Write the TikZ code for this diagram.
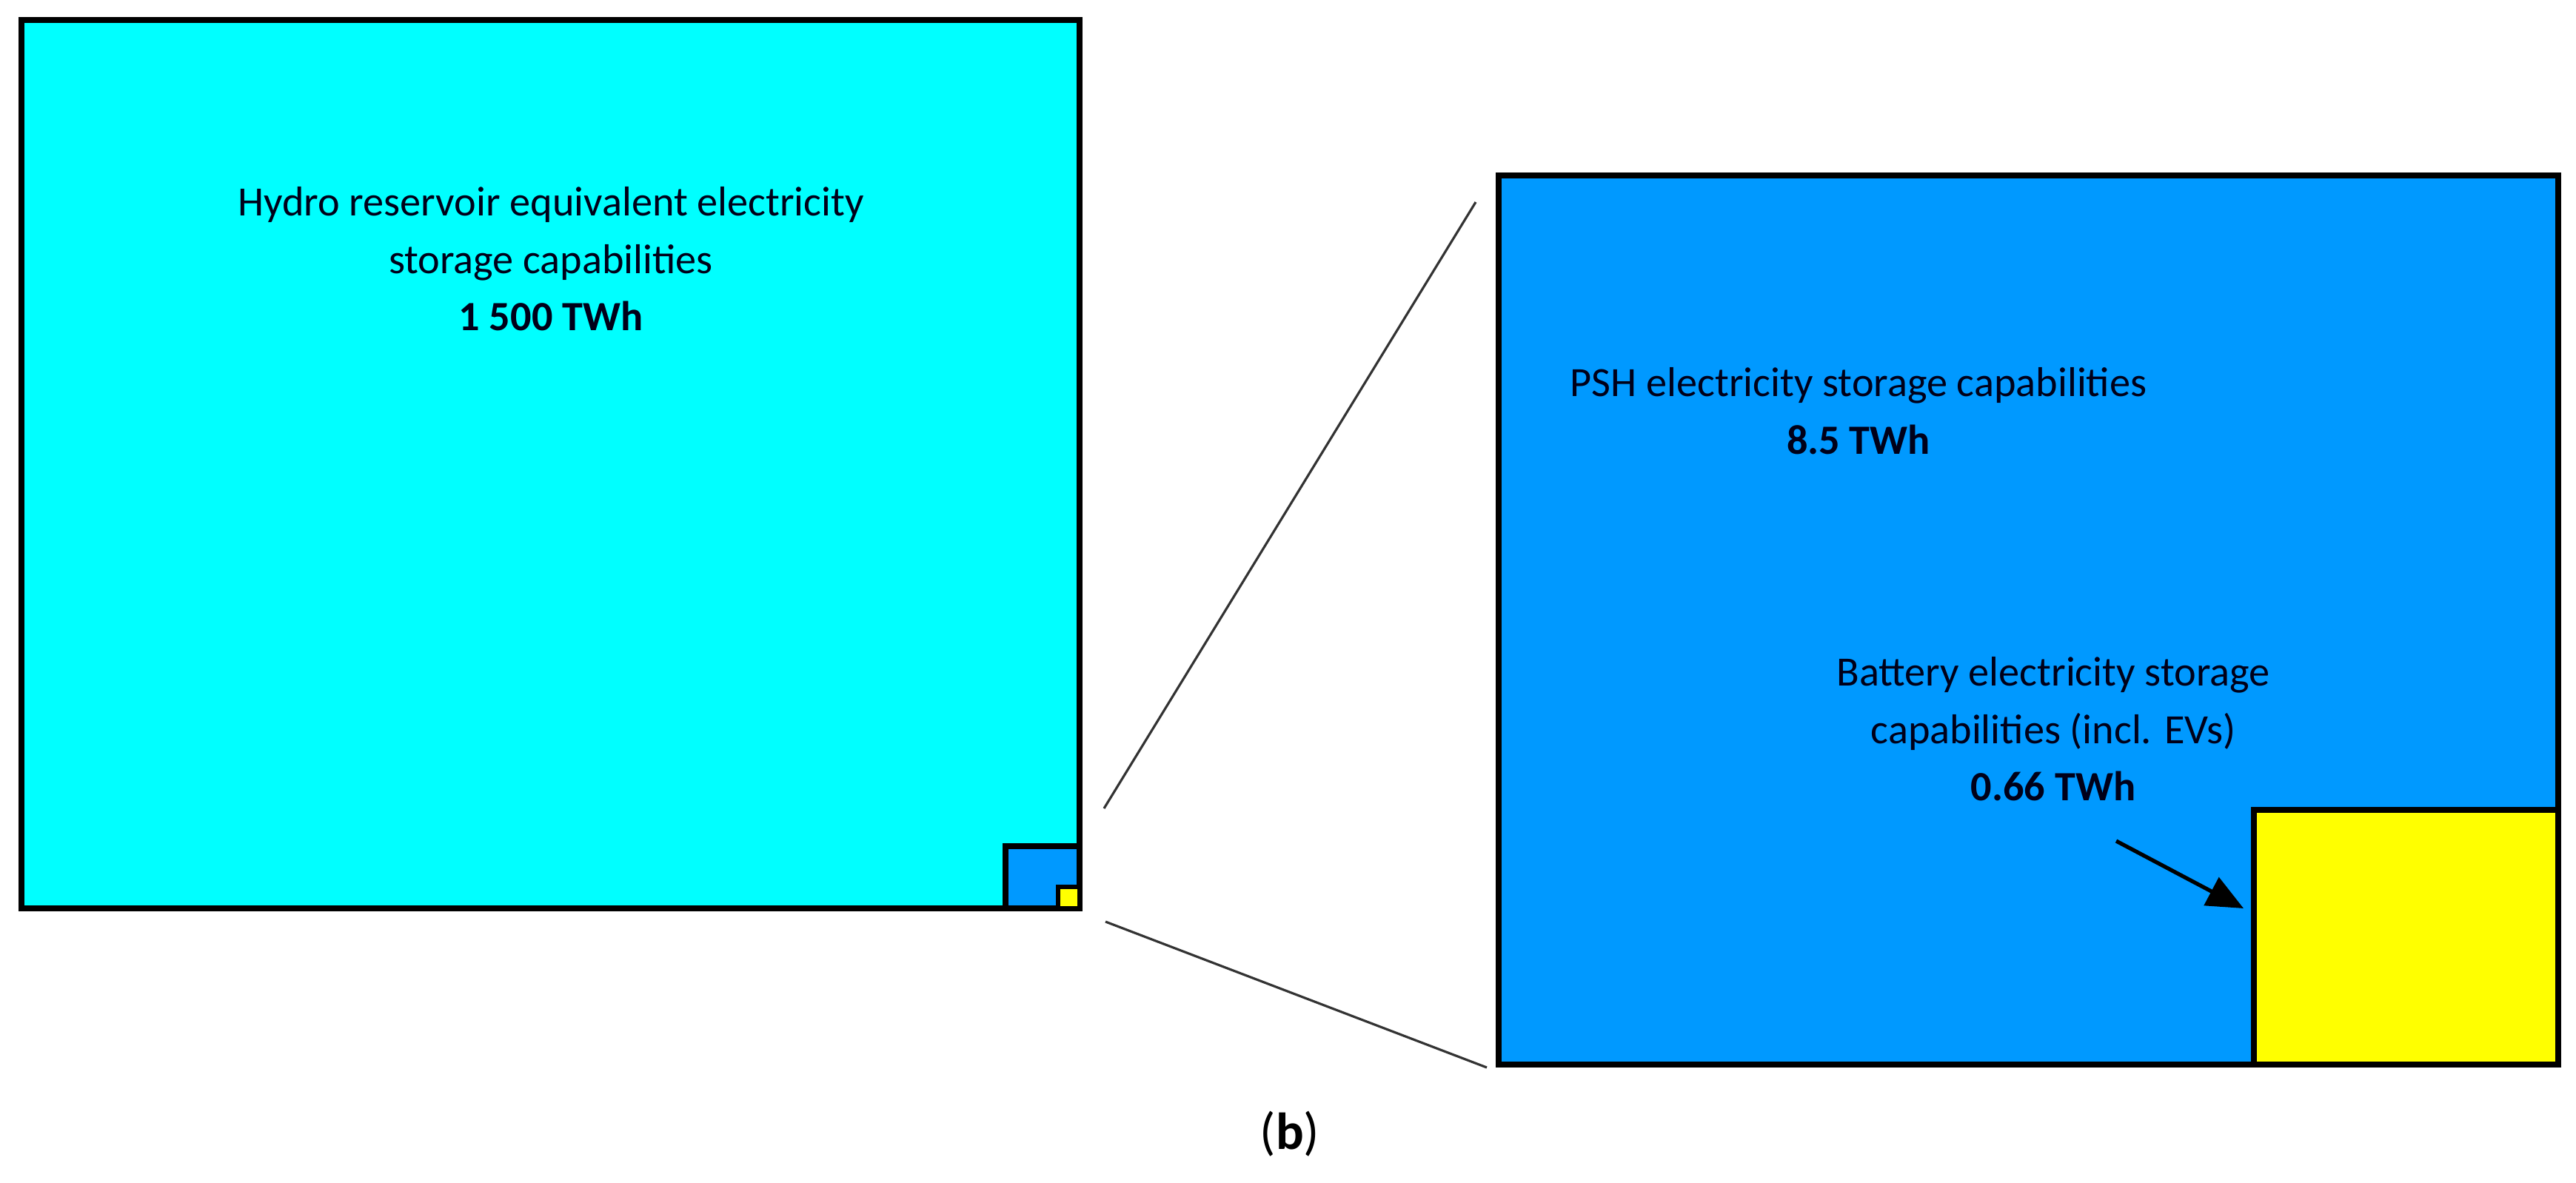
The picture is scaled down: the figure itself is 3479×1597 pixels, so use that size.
\documentclass[tikz,border=0pt]{standalone}
\usepackage{fontspec}
\setmainfont{Carlito}
\usetikzlibrary{arrows.meta}
\definecolor{cyanbox}{RGB}{0,255,255}
\definecolor{bluebox}{RGB}{0,153,255}
\definecolor{yelbox}{RGB}{255,255,0}
\begin{document}
\begin{tikzpicture}[x=0.01cm,y=-0.01cm,
  box/.style={draw=black,line width=2.2pt},
  lbl/.style={align=center,font=\fontsize{16}{22}\selectfont,text=black!90!blue},
  zoomline/.style={draw=black!80,line width=0.9pt}]
\useasboundingbox (0,0) rectangle (3479,1597);
\fill[white] (0,0) rectangle (3479,1597);
% left square
\path[box,fill=cyanbox] (29,27) rectangle (1458,1227);
\path[box,fill=bluebox] (1358,1143) rectangle (1458,1227);
\path[box,fill=yelbox,line width=1.5pt] (1429,1198) rectangle (1458,1227);
\node[lbl] (hydro) at (744,350) {Hydro reservoir equivalent electricity\\storage capabilities\\\textbf{1 500 TWh}};
% zoom lines
\coordinate (u1) at (1491,1092);
\coordinate (u2) at (1993,273);
\coordinate (l1) at (1493,1245);
\coordinate (l2) at (2008,1442);
\draw[zoomline] (u1) -- (u2);
\draw[zoomline] (l1) -- (l2);
% right panel
\path[box,fill=bluebox] (2024,237) rectangle (3455,1438);
\path[box,fill=yelbox] (3044,1094) rectangle (3455,1438);
\node[lbl] (psh) at (2510,555) {PSH electricity storage capabilities\\\textbf{8.5 TWh}};
\node[lbl] (bat) at (2773,985) {Battery electricity storage\\capabilities (incl. EVs)\\\textbf{0.66 TWh}};
\coordinate (a1) at (2858,1136);
\coordinate (a2) at (3030,1227);
\draw[line width=1.5pt,-{Triangle[length=14pt,width=12pt]}] (a1) -- (a2);
\node[font=\fontsize{20}{24}\selectfont\rmfamily] (cap) at (1742,1532) {(\textbf{b})};
\end{tikzpicture}
\end{document}
